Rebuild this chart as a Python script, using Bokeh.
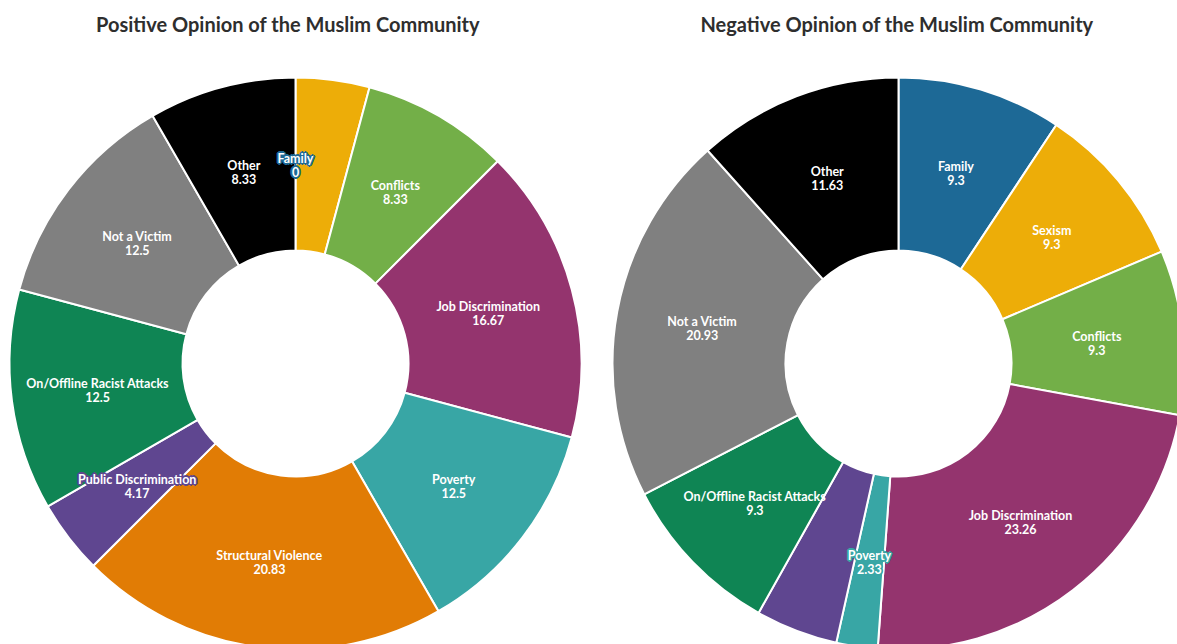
import math
from bokeh.plotting import figure
from bokeh.models import Range1d, ColumnDataSource
from bokeh.core.properties import value
from bokeh.embed import file_html
from bokeh.resources import INLINE

# ---------------- data ----------------
pos_title = "Positive Opinion of the Muslim Community"
pos_categories = ["Family", "Sexism", "Conflicts", "Job Discrimination", "Poverty",
                  "Structural Violence", "Public Discrimination",
                  "On/Offline Racist Attacks", "Not a Victim", "Other"]
pos_values = [0, 4.17, 8.33, 16.67, 12.5, 20.83, 4.17, 12.5, 12.5, 8.33]

neg_title = "Negative Opinion of the Muslim Community"
neg_categories = ["Family", "Sexism", "Conflicts", "Job Discrimination", "Poverty",
                  "Public Discrimination", "On/Offline Racist Attacks",
                  "Not a Victim", "Other"]
neg_values = [9.3, 9.3, 9.3, 23.26, 2.33, 4.65, 9.3, 20.93, 11.63]

# label style per slice: "in" = plain white, "halo" = outlined, None = hidden
pos_label_mode = ["halo", None, "in", "in", "in", "in", "halo", "in", "in", "in"]
neg_label_mode = ["in", "in", "in", "in", "halo", None, "in", "in", "in"]

colors = {
    "Family": "#1d6996",
    "Sexism": "#edad08",
    "Conflicts": "#73af48",
    "Job Discrimination": "#94346e",
    "Poverty": "#38a6a5",
    "Structural Violence": "#e17c05",
    "Public Discrimination": "#5f4690",
    "On/Offline Racist Attacks": "#0f8554",
    "Not a Victim": "#808080",
    "Other": "#000000",
}

W, H = 1177, 644
OUTER, INNER = 286, 113
FONT = "Lato"
LBL_SIZE = "12.5px"
OFFS = (("n", -5.5), ("v", 8))

p = figure(width=W, height=H, output_backend="svg", toolbar_location=None,
           x_range=Range1d(0, W), y_range=Range1d(0, H),
           x_axis_location=None, y_axis_location=None,
           min_border=0, min_border_left=0, min_border_right=0,
           min_border_top=0, min_border_bottom=0)
p.grid.visible = False
p.outline_line_color = None
p.background_fill_color = "white"
p.border_fill_color = "white"


def fmt(v):
    return f"{v:g}"


def donut(cx, cy, title, cats, vals, modes, title_x):
    total = sum(vals)
    starts, ends, cols = [], [], []
    lx, ly, names, nums = [], [], [], []
    hx, hy, hnames, hnums, hcols = [], [], [], [], []
    cum = 0.0
    for c, v, m in zip(cats, vals, modes):
        f0 = cum / total
        cum += v
        f1 = cum / total
        a_start = math.pi / 2 - 2 * math.pi * f1
        a_end = math.pi / 2 - 2 * math.pi * f0
        starts.append(a_start)
        ends.append(a_end)
        cols.append(colors[c])
        mid = math.pi / 2 - 2 * math.pi * (f0 + f1) / 2
        rr = (OUTER + INNER) / 2
        x = cx + rr * math.cos(mid)
        y = cy + rr * math.sin(mid)
        if m == "in":
            lx.append(x); ly.append(y); names.append(c); nums.append(fmt(v))
        elif m == "halo":
            hx.append(x); hy.append(y); hnames.append(c); hnums.append(fmt(v))
            hcols.append(colors[c])
    src = ColumnDataSource(dict(s=starts, e=ends, c=cols,
                                x=[cx] * len(starts), y=[cy] * len(starts)))
    p.annular_wedge(x="x", y="y", inner_radius=INNER, outer_radius=OUTER,
                    start_angle="s", end_angle="e", direction="anticlock",
                    fill_color="c", line_color="white", line_width=2,
                    source=src)
    # halo: coloured copies offset around the label, white text on top
    hsrc = ColumnDataSource(dict(x=hx, y=hy, n=hnames, v=hnums, c=hcols))
    for k in range(8):
        ang = 2 * math.pi * k / 8
        dx, dy = 1.8 * math.cos(ang), 1.8 * math.sin(ang)
        for col, off in OFFS:
            p.text(x="x", y="y", text=col, source=hsrc,
                   x_offset=dx, y_offset=off + dy,
                   text_align="center", text_baseline="middle",
                   text_font=value(FONT), text_font_style="bold",
                   text_font_size=LBL_SIZE, text_color="c")
    for col, off in OFFS:
        p.text(x="x", y="y", text=col, source=hsrc, y_offset=off,
               text_align="center", text_baseline="middle",
               text_font=value(FONT), text_font_style="bold",
               text_font_size=LBL_SIZE, text_color="white")
    lsrc = ColumnDataSource(dict(x=lx, y=ly, n=names, v=nums))
    for col, off in OFFS:
        p.text(x="x", y="y", text=col, source=lsrc, y_offset=off,
               text_align="center", text_baseline="middle",
               text_font=value(FONT), text_font_style="bold",
               text_font_size=LBL_SIZE, text_color="white")
    p.text(x=[title_x], y=[H - 23], text=[title], text_align="center",
           text_baseline="middle", text_font=value(FONT),
           text_font_style="bold", text_font_size="20px",
           text_color="#2e2e2e")


donut(295, H - 363, pos_title, pos_categories, pos_values, pos_label_mode, 287.5)
donut(898, H - 363, neg_title, neg_categories, neg_values, neg_label_mode, 896.5)

open("out.html", "w").write(file_html(p, INLINE))
